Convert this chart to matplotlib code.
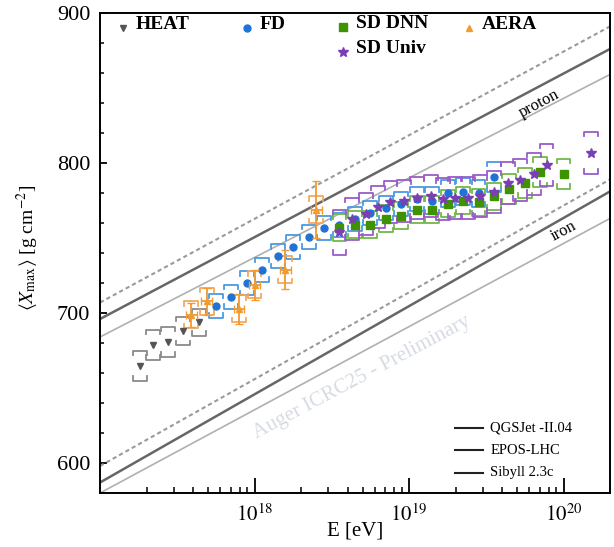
import numpy as np
import matplotlib
matplotlib.use("Agg")
import matplotlib.pyplot as plt

plt.rcParams['font.family'] = ['Liberation Serif', 'DejaVu Serif']
plt.rcParams['mathtext.fontset'] = 'stix'

# ---- data (lg E/eV, <Xmax> g/cm2, systematic half-width) ----
heat_lgE = [17.26, 17.34, 17.44, 17.54, 17.64]
heat_x = [665, 679, 681, 688, 694]
heat_sys = [10, 10, 10, 9.5, 9]

fd_lgE = [17.75, 17.85, 17.95, 18.05, 18.15, 18.25, 18.35, 18.45, 18.55, 18.65,
          18.75, 18.85, 18.95, 19.05, 19.15, 19.25, 19.35, 19.45, 19.55]
fd_x = [705, 711, 720, 729, 738, 744, 751, 757, 759, 763,
        767, 770, 773, 776, 775, 780, 781, 780, 791]
fd_sys = [8, 8, 8, 8, 8, 8, 8, 8, 8, 8, 8, 8, 8, 8, 9, 9, 9, 9, 10]

dnn_lgE = [18.55, 18.65, 18.75, 18.85, 18.95, 19.05, 19.15, 19.25, 19.35, 19.45,
           19.55, 19.65, 19.75, 19.85, 20.0]
dnn_x = [757, 759, 759, 763, 765, 769, 769, 773, 775, 774, 778, 783, 787, 794, 793]
dnn_sys = [9, 9, 9, 9, 9, 9, 9, 9, 9, 9, 9, 10, 10, 10, 10]

univ_lgE = [18.55, 18.63, 18.72, 18.80, 18.88, 18.97, 19.05, 19.14, 19.22, 19.30,
            19.38, 19.46, 19.55, 19.64, 19.72, 19.81, 19.89, 20.18]
univ_x = [754, 763, 766, 771, 774, 775, 777, 778, 776, 777, 777, 778, 781, 787, 789, 793, 799, 807]
univ_sys = [15, 14, 14, 14, 14, 14, 14, 14, 14, 14, 14, 14, 14, 14, 14, 14, 14, 14]

aera_lgE = [17.59, 17.69, 17.90, 18.00, 18.20, 18.40]
aera_x = [699, 708, 703, 719, 729, 769]
aera_err = [8, 9, 10, 10, 13, 19]
aera_sys = [9, 9, 9, 9, 9, 9]

# model lines: <Xmax> at lgE = 17.0 and 20.3
model_lgE = [17.0, 20.3]
p_sib = [707, 891]
p_epos = [696, 876]
p_qgs = [684, 859]
fe_sib = [598, 789]
fe_epos = [587, 781]
fe_qgs = [580, 763]

model_names = ['QGSJet -II.04', 'EPOS-LHC', 'Sibyll 2.3c']


def brackets(ax, lgE, xm, sys, color, hw=0.045, tk=3.0):
    for e, v, d in zip(lgE, xm, sys):
        x0, x1 = 10**(e - hw), 10**(e + hw)
        ax.plot([x0, x0, x1, x1], [v + d - tk, v + d, v + d, v + d - tk], color=color, lw=1.3, zorder=3)
        ax.plot([x0, x0, x1, x1], [v - d + tk, v - d, v - d, v - d + tk], color=color, lw=1.3, zorder=3)


fig = plt.figure(figsize=(6.14, 5.47), dpi=100)
ax = fig.add_axes([0.1629, 0.0987, 0.8306, 0.8775])

E_m = 10**np.array(model_lgE)
ax.plot(E_m, p_sib, color='#9a9a9a', lw=1.5, ls=(0, (2, 1.5)))
ax.plot(E_m, fe_sib, color='#9a9a9a', lw=1.5, ls=(0, (2, 1.5)))
ax.plot(E_m, p_epos, color='#666666', lw=1.8)
ax.plot(E_m, fe_epos, color='#666666', lw=1.8)
ax.plot(E_m, p_qgs, color='#b0b0b0', lw=1.2)
ax.plot(E_m, fe_qgs, color='#b0b0b0', lw=1.2)

ax.text(0.862, 0.812, 'proton', transform=ax.transAxes, rotation=28, ha='center', va='center', fontsize=12)
ax.text(0.908, 0.545, 'iron', transform=ax.transAxes, rotation=28, ha='center', va='center', fontsize=12)
ax.text(0.514, 0.24, 'Auger ICRC25 - Preliminary', transform=ax.transAxes, rotation=28,
        ha='center', va='center', fontsize=15, color='#d6dbe4')

# systematics
brackets(ax, heat_lgE, heat_x, heat_sys, '#8a8a8a')
brackets(ax, fd_lgE, fd_x, fd_sys, '#4a9ae0')
brackets(ax, dnn_lgE, dnn_x, dnn_sys, '#72b84a')
brackets(ax, univ_lgE, univ_x, univ_sys, '#9a5cc8')
brackets(ax, aera_lgE, aera_x, aera_sys, '#f5a85a')

c_heat, c_fd, c_dnn, c_aera, c_univ = '#555555', '#1f72d6', '#3f9200', '#f39a30', '#7a3fb2'
ax.plot(10**np.array(heat_lgE), heat_x, 'v', color=c_heat, ms=5, zorder=5)
ax.plot(10**np.array(fd_lgE), fd_x, 'o', color=c_fd, ms=5, zorder=5)
ax.plot(10**np.array(dnn_lgE), dnn_x, 's', color=c_dnn, ms=6, zorder=5)
ax.plot(10**np.array(univ_lgE), univ_x, '*', color=c_univ, ms=7, zorder=6)
aE = 10**np.array(aera_lgE)
ax.errorbar(aE, aera_x, yerr=aera_err, xerr=[aE - aE / 10**0.035, aE * 10**0.035 - aE],
            fmt='^', color=c_aera, ms=5, capsize=3, lw=1.3, zorder=6)

ax.set_xscale('log')
ax.set_xlim(1e17, 2e20)
ax.set_ylim(580, 900)
ax.set_xticks([1e18, 1e19, 1e20])
ax.set_xticklabels([r'$10^{18}$', r'$10^{19}$', r'$10^{20}$'])
ax.set_yticks([600, 700, 800, 900])
ax.set_yticks(np.arange(600, 900, 20), minor=True)
ax.tick_params(which='both', direction='in')
ax.tick_params(axis='x', which='major', length=11, width=1.3, pad=8, labelsize=15)
ax.tick_params(axis='x', which='minor', length=4.5, width=1.1)
ax.tick_params(axis='y', which='major', length=5, width=1.3, pad=7, labelsize=16)
ax.tick_params(axis='y', which='minor', length=3, width=1.1)
for s in ax.spines.values():
    s.set_linewidth(1.4)

ax.set_xlabel('E [eV]', fontsize=15)
ax.xaxis.set_label_coords(0.5, -0.06)
ax.set_ylabel(r'$\langle X_{\rm max}\rangle$ [g cm$^{-2}$]', fontsize=14)
ax.yaxis.set_label_coords(-0.115, 0.51)

# top legend, placed by hand
leg = [('HEAT', 'v', c_heat, 0.045, 0.977, 5), ('FD', 'o', c_fd, 0.288, 0.977, 5),
       ('SD DNN', 's', c_dnn, 0.476, 0.979, 6), ('AERA', '^', c_aera, 0.724, 0.977, 5),
       ('SD Univ', '*', c_univ, 0.476, 0.927, 7)]
for name, m, c, x, y, ms in leg:
    ax.plot([x], [y - 0.008], m, color=c, ms=ms, transform=ax.transAxes, clip_on=False)
    ax.text(x + 0.025, y, name, transform=ax.transAxes, va='center', fontsize=14, fontweight='bold')

# model legend
for i, name in enumerate(model_names):
    y = 0.136 - i * 0.047
    ax.plot([0.696, 0.751], [y, y], color='#222222', lw=1.5, transform=ax.transAxes)
    ax.text(0.765, y, name, transform=ax.transAxes, va='center', fontsize=10.5)

fig.savefig('out.png', dpi=100)
